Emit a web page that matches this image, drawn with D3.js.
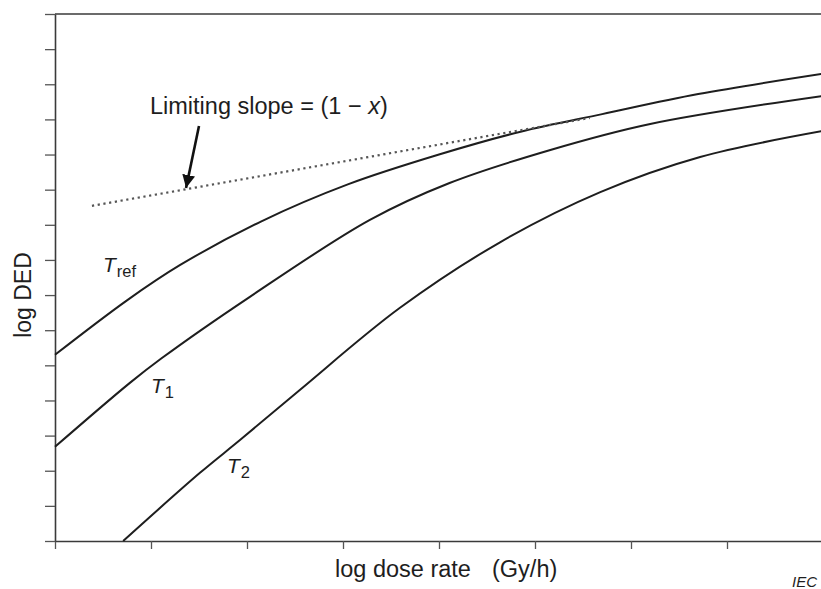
<!DOCTYPE html>
<html>
<head>
<meta charset="utf-8">
<script src="https://cdn.jsdelivr.net/npm/d3@7"></script>
<style>
  html, body { margin: 0; padding: 0; background: #fff; }
  svg { display: block; font-family: "Liberation Sans", Arial, sans-serif; }
</style>
</head>
<body>
<svg id="chart" width="821" height="589"></svg>
<script>
// Schematic: log DED versus log dose rate at three temperatures (arbitrary units)
const xTicks = [0, 1, 2, 3, 4, 5, 6, 7, 8];
const yTicks = d3.range(0, 16);

const trefX = [0, 0.75, 1.3, 2.15, 3.05, 4.0, 4.85, 5.7, 6.7, 8.0];
const trefY = [5.3, 6.85, 7.85, 9.1, 10.15, 11.0, 11.65, 12.15, 12.72, 13.3];

const t1X = [0, 0.78, 1.11, 2.03, 3.28, 4.11, 5.16, 6.2, 8.0];
const t1Y = [2.68, 4.5, 5.2, 6.95, 9.14, 10.19, 11.13, 11.87, 12.67];

const t2X = [0.71, 1.51, 1.93, 2.55, 3.59, 4.64, 5.68, 6.72, 8.0];
const t2Y = [0, 1.94, 2.88, 4.3, 6.63, 8.51, 9.93, 10.93, 11.67];

// limiting-slope asymptote (dotted)
const limitX = [0.385, 5.57];
const limitY = [9.54, 12.04];

// annotation arrow: start, tip
const arrowX = [1.5, 1.365];
const arrowY = [11.81, 10.05];

const svg = d3.select("#chart");
const x = d3.scaleLinear().domain([0, 8]).range([55, 823]);
const y = d3.scaleLinear().domain([0, 15]).range([541, 14]);

const ink = "#1e1e1e";
const axisInk = "#3a3a3a";

// top frame line
svg.append("line")
  .attr("x1", x(0)).attr("x2", x(8))
  .attr("y1", y(15)).attr("y2", y(15))
  .attr("stroke", axisInk).attr("stroke-width", 1.6);

// axes
const gx = svg.append("g")
  .attr("transform", `translate(0,${y(0)})`)
  .call(d3.axisBottom(x).tickValues(xTicks).tickFormat("").tickSize(8).tickSizeOuter(0));
const gy = svg.append("g")
  .attr("transform", `translate(${x(0)},0)`)
  .call(d3.axisLeft(y).tickValues(yTicks).tickFormat("").tickSize(10).tickSizeOuter(0));
[gx, gy].forEach(g => {
  g.select(".domain").attr("stroke", axisInk).attr("stroke-width", 1.6);
  g.selectAll(".tick line").attr("stroke", "#555").attr("stroke-width", 1.3);
});

// curves
const line = d3.line().x(d => x(d[0])).y(d => y(d[1])).curve(d3.curveCatmullRom.alpha(0.5));
[[trefX, trefY], [t1X, t1Y], [t2X, t2Y]].forEach(([xs, ys]) => {
  svg.append("path")
    .datum(xs.map((v, i) => [v, ys[i]]))
    .attr("d", line)
    .attr("fill", "none")
    .attr("stroke", ink)
    .attr("stroke-width", 2);
});

// dotted limiting slope
svg.append("path")
  .datum(limitX.map((v, i) => [v, limitY[i]]))
  .attr("d", d3.line().x(d => x(d[0])).y(d => y(d[1])))
  .attr("fill", "none")
  .attr("stroke", "#555")
  .attr("stroke-width", 2.2)
  .attr("stroke-dasharray", "2.2,3.6");

// arrow
svg.append("defs").append("marker")
  .attr("id", "head")
  .attr("viewBox", "0 0 10 10")
  .attr("refX", 10).attr("refY", 5)
  .attr("markerWidth", 5).attr("markerHeight", 5)
  .attr("orient", "auto")
  .attr("markerUnits", "strokeWidth")
  .append("path").attr("d", "M0,0 L10,5 L0,10 Z").attr("fill", "#111");
svg.append("line")
  .attr("x1", x(arrowX[0])).attr("y1", y(arrowY[0]))
  .attr("x2", x(arrowX[1])).attr("y2", y(arrowY[1]))
  .attr("stroke", "#111").attr("stroke-width", 2.6)
  .attr("marker-end", "url(#head)");

// annotation text
const note = svg.append("text")
  .attr("x", 150).attr("y", 114)
  .attr("font-size", 23.5).attr("fill", ink);
note.append("tspan").text("Limiting slope = (1 \u2212 ");
note.append("tspan").attr("font-style", "italic").text("x");
note.append("tspan").text(")");

// curve labels
function tLabel(px, py, sub) {
  const t = svg.append("text").attr("x", px).attr("y", py).attr("fill", ink);
  t.append("tspan").attr("font-size", 21).attr("font-style", "italic").text("T");
  t.append("tspan").attr("font-size", 16.5).attr("dy", 5).attr("dx", 1).text(sub);
}
tLabel(103, 272, "ref");
tLabel(151, 393, "1");
tLabel(227, 473, "2");

// axis titles
svg.append("text")
  .attr("transform", "translate(31,295) rotate(-90)")
  .attr("text-anchor", "middle")
  .attr("font-size", 23).attr("fill", ink)
  .text("log DED");
const xt = svg.append("text")
  .attr("y", 577)
  .attr("font-size", 23.5).attr("fill", ink);
xt.append("tspan").attr("x", 335).text("log dose rate");
xt.append("tspan").attr("x", 492).text("(Gy/h)");

svg.append("text")
  .attr("x", 792).attr("y", 587)
  .attr("font-size", 15).attr("font-style", "italic").attr("fill", ink)
  .text("IEC");
</script>
</body>
</html>
